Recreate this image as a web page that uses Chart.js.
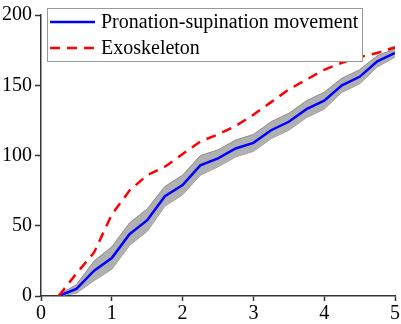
<!DOCTYPE html>
<html>
<head>
<meta charset="utf-8">
<script src="https://cdn.jsdelivr.net/npm/chart.js@4"></script>
<style>
  body { margin: 0; background: #fff; }
</style>
</head>
<body>
<canvas id="movementChart" width="401" height="324"></canvas>
<script>
const timeValues = [0.25, 0.5, 0.75, 1.0, 1.25, 1.5, 1.75, 2.0, 2.25, 2.5,
                    2.75, 3.0, 3.25, 3.5, 3.75, 4.0, 4.25, 4.5, 4.75, 5.0];
const pronationMean = [0, 5, 18, 27, 44, 54, 71, 79, 93, 98,
                       105, 109, 118, 124, 133, 139, 150, 156, 167, 173];
const pronationUpper = [1, 8, 25, 35, 52, 62, 78, 86, 100, 104,
                        111, 115, 124, 130, 139, 145, 155, 161, 171, 176];
const pronationLower = [0, 2, 11, 19, 36, 46, 64, 72, 86, 92,
                        99, 103, 112, 118, 127, 133, 145, 151, 163, 170];
const exoskeletonValues = [0, 16, 31, 58, 75, 86, 92, 101, 110, 115,
                           121, 129, 138, 147, 154, 161, 166, 170, 173, 177];
const xTicks = [0, 1, 2, 3, 4, 5];
const yTicks = [0, 50, 100, 150, 200];
const legendLabels = ['Pronation-supination movement', 'Exoskeleton'];

function toPoints(values) {
    return values.map((v, i) => ({ x: timeValues[i], y: v }));
}

const serif = 'Liberation Serif, Times New Roman, serif';

// legend drawn inside the plot, with a box round it
const boxLegend = {
    id: 'boxLegend',
    afterDraw(chart) {
        const ctx = chart.ctx;
        const left = 47, top = 8, width = 315, height = 53;
        ctx.save();
        ctx.fillStyle = '#ffffff';
        ctx.fillRect(left, top, width, height);
        ctx.strokeStyle = '#9a9a9a';
        ctx.lineWidth = 1;
        ctx.strokeRect(left + 0.5, top + 0.5, width, height);

        const rows = [chart.data.datasets[2], chart.data.datasets[3]];
        rows.forEach((ds, i) => {
            const y = top + 14 + i * 26;
            ctx.beginPath();
            ctx.strokeStyle = ds.borderColor;
            ctx.lineWidth = ds.borderWidth;
            ctx.setLineDash(ds.borderDash || []);
            ctx.moveTo(left + 3, y);
            ctx.lineTo(left + 48, y);
            ctx.stroke();
            ctx.setLineDash([]);
            ctx.fillStyle = '#000';
            ctx.font = '20px ' + serif;
            ctx.textBaseline = 'middle';
            ctx.fillText(legendLabels[i], left + 54, y + 1);
        });
        ctx.restore();
    }
};

let ctx = document.getElementById('movementChart').getContext('2d');

let movementChart = new Chart(ctx, {
    type: 'line',
    data: {
        datasets: [
            {
                label: 'lower',
                data: toPoints(pronationLower),
                borderColor: '#8a8a8a',
                borderWidth: 1,
                pointRadius: 0,
                fill: false,
                order: 4
            },
            {
                label: 'upper',
                data: toPoints(pronationUpper),
                borderColor: '#8a8a8a',
                borderWidth: 1,
                backgroundColor: '#b0b0b0',
                pointRadius: 0,
                fill: '-1',
                order: 3
            },
            {
                label: legendLabels[0],
                data: toPoints(pronationMean),
                borderColor: '#0000ff',
                borderWidth: 2.5,
                pointRadius: 0,
                fill: false,
                order: 2
            },
            {
                label: legendLabels[1],
                data: toPoints(exoskeletonValues),
                borderColor: '#ff0000',
                borderWidth: 2.5,
                borderDash: [10, 7],
                pointRadius: 0,
                fill: false,
                order: 1
            }
        ]
    },
    options: {
        responsive: false,
        animation: false,
        layout: {
            padding: { top: 9, right: 6, left: 0, bottom: 0 }
        },
        plugins: {
            legend: { display: false },
            tooltip: { enabled: false }
        },
        scales: {
            x: {
                type: 'linear',
                min: 0,
                max: 5,
                afterBuildTicks: (scale) => { scale.ticks = xTicks.map(v => ({ value: v })); },
                afterFit: (scale) => { scale.height = 28; },
                grid: { display: true, drawOnChartArea: false, drawTicks: true, tickLength: 5, color: '#333', tickWidth: 1.5 },
                border: { color: '#333', width: 1.5 },
                ticks: { color: '#000', padding: 1, font: { family: serif, size: 20 }, maxRotation: 0 }
            },
            y: {
                min: 0,
                max: 200,
                afterBuildTicks: (scale) => { scale.ticks = yTicks.map(v => ({ value: v })); },
                afterFit: (scale) => { scale.width = 41; },
                grid: { display: true, drawOnChartArea: false, drawTicks: true, tickLength: 6, color: '#333', tickWidth: 1.5 },
                border: { color: '#333', width: 1.5 },
                ticks: { color: '#000', padding: 3, font: { family: serif, size: 20 } }
            }
        }
    },
    plugins: [boxLegend]
});
</script>
</body>
</html>
